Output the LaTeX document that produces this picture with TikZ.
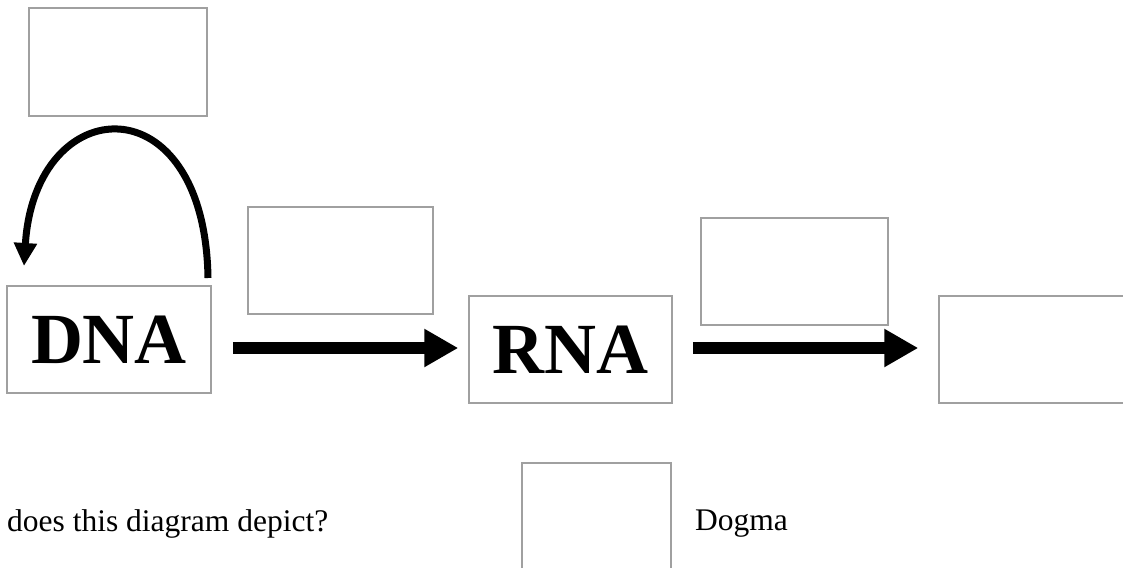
\documentclass[tikz,border=0pt]{standalone}
\usepackage{fontspec}
\setmainfont{Liberation Serif}
\usetikzlibrary{arrows.meta}
\definecolor{boxgray}{RGB}{160,160,160}
\tikzset{
  blank/.style={draw=boxgray, line width=1.5pt, rectangle, inner sep=0pt, fill=white},
  bigword/.style={font=\fontsize{72}{80}\selectfont\bfseries},
  plain/.style={font=\fontsize{31.5}{36}\selectfont, inner sep=0pt, anchor=base west},
  fatarrow/.style={line width=12pt, -{Triangle[length=34pt,width=36pt]}},
  curvearrow/.style={line width=7pt, -{Triangle[length=23pt,width=22pt]}}
}
\begin{document}
\begin{tikzpicture}[x=1pt,y=-1pt]
\clip (0,0) rectangle (1123,567);
\fill[white] (0,0) rectangle (1123,567);
% boxes
\node[blank, minimum width=178pt, minimum height=108pt] (top) at (118,62) {};
\node[blank, bigword, minimum width=204pt, minimum height=107pt] (dna) at (109,339.5) {DNA};
\node[blank, minimum width=185pt, minimum height=107pt] (b) at (340.5,260.5) {};
\node[blank, bigword, minimum width=203pt, minimum height=107pt] (rna) at (570.5,349.5) {RNA};
\node[blank, minimum width=187pt, minimum height=107pt] (c) at (794.5,271.5) {};
\node[blank, minimum width=201pt, minimum height=107pt] (d) at (1039.5,349.5) {};
\node[blank, minimum width=149pt, minimum height=107pt] (e) at (596.5,516.5) {};
% texts
\node[plain] (q) at (7,531) {does this diagram depict?};
\node[plain] (dogma) at (695,530) {Dogma};
% curved arrow
\coordinate (cs) at (208,278);
\coordinate (ce) at (24,266);
\draw[curvearrow] (cs) .. controls (205,80) and (35,90) .. (ce);
% straight arrows
\draw[fatarrow, shorten <=21pt, shorten >=10pt] ([yshift=-8.5pt]dna.east) -- ([yshift=-8.5pt]dna.east -| rna.west);
\draw[fatarrow, shorten <=20pt, shorten >=20pt] ([yshift=1.5pt]rna.east) -- ([yshift=1.5pt]rna.east -| d.west);
\end{tikzpicture}
\end{document}
